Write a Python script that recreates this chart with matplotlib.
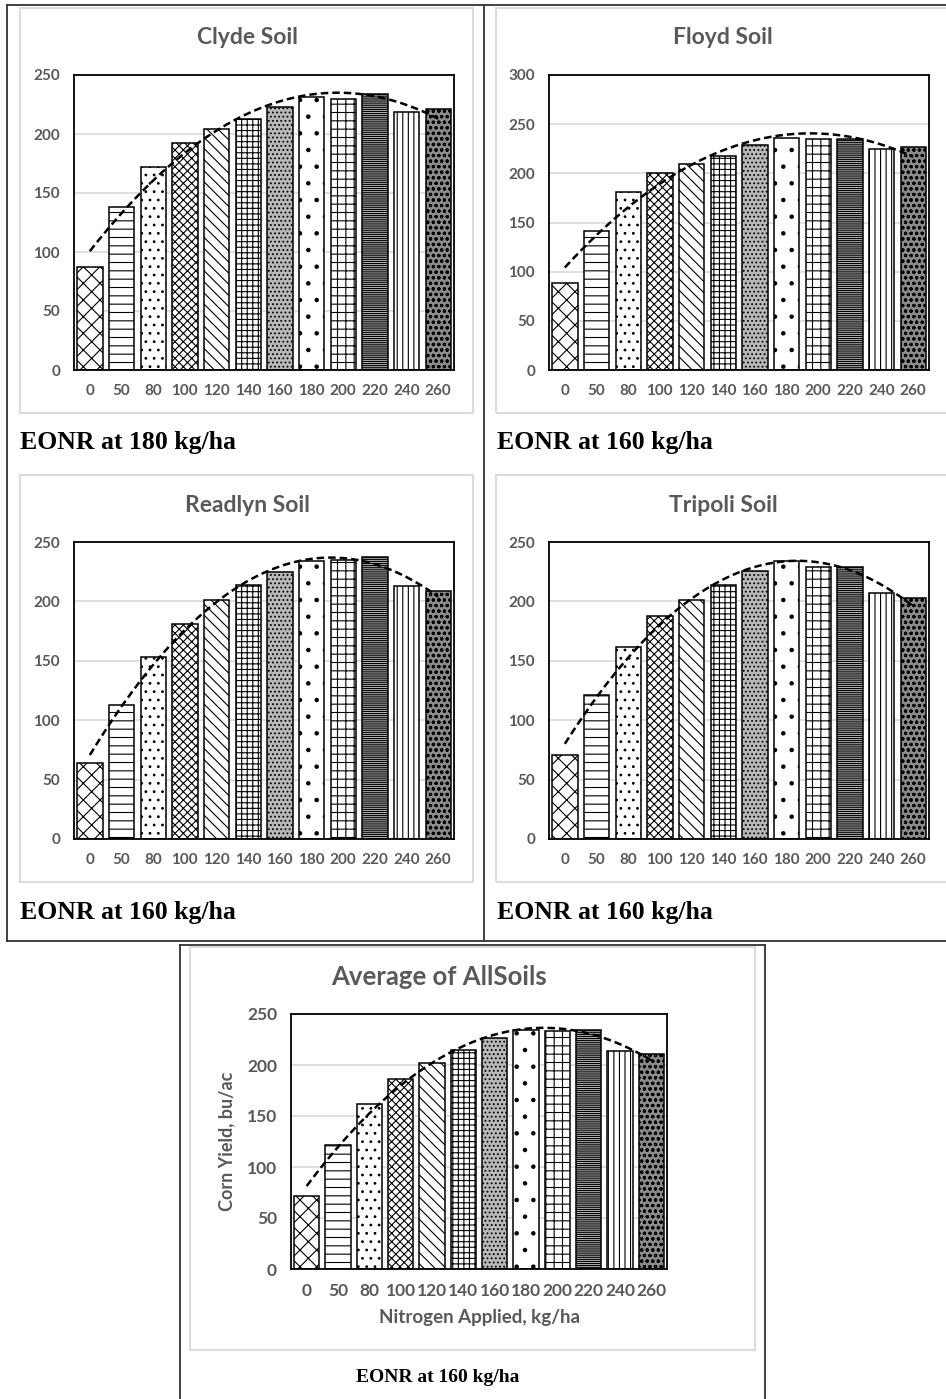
import numpy as np
import matplotlib
matplotlib.use("Agg")
import matplotlib.pyplot as plt
from matplotlib.patches import Rectangle
from matplotlib.lines import Line2D

# Nitrogen rates (kg/ha)
n_rates = ["0", "50", "80", "100", "120", "140", "160", "180", "200", "220", "240", "260"]

# Corn yields (bu/ac)
clyde = [87, 138, 172, 192, 204, 213, 223, 231, 230, 234, 219, 221]
floyd = [88, 141, 181, 200, 210, 218, 229, 236, 235, 235, 225, 227]
readlyn = [64, 113, 153, 181, 201, 214, 225, 234, 235, 237, 213, 209]
tripoli = [71, 121, 162, 188, 201, 214, 226, 234, 229, 229, 207, 203]
average = [72, 122, 162, 186, 202, 215, 226, 234, 233, 234, 214, 211]

titles = ["Clyde Soil", "Floyd Soil", "Readlyn Soil", "Tripoli Soil", "Average of AllSoils"]
eonr = ["EONR at 180 kg/ha", "EONR at 160 kg/ha", "EONR at 160 kg/ha",
        "EONR at 160 kg/ha", "EONR at 160 kg/ha"]
ymax = [250, 300, 250, 250, 250]

# one fill pattern per nitrogen rate
hatches = ["xx", "--", "..", "xxxx", "\\\\\\", "+++", "....", ".", "++", "--------", "|||", "ooo"]
faces = ["white", "white", "white", "white", "white", "white", "#b8b8b8",
         "white", "white", "#b4b4b4", "white", "#8a8a8a"]

plt.rcParams["hatch.linewidth"] = 0.8
tick_grey = "#595959"

W, H = 946, 1399
fig = plt.figure(figsize=(W / 100, H / 100), dpi=100)


def fx(x):
    return x / W


def fy(y):
    return 1 - y / H


def rect_px(x0, y0, x1, y1):
    return [fx(x0), fy(y1), (x1 - x0) / W, (y1 - y0) / H]


def hline(x0, x1, y, color="#333333", lw=1.3):
    fig.add_artist(Line2D([fx(x0), fx(x1)], [fy(y), fy(y)], color=color, lw=lw,
                          transform=fig.transFigure))


def vline(x, y0, y1, color="#333333", lw=1.3):
    fig.add_artist(Line2D([fx(x), fx(x)], [fy(y0), fy(y1)], color=color, lw=lw,
                          transform=fig.transFigure))


def frame(x0, y0, x1, y1):
    fig.add_artist(Rectangle((fx(x0), fy(y1)), (x1 - x0) / W, (y1 - y0) / H,
                             transform=fig.transFigure, fill=False,
                             edgecolor="#dcdcdc", lw=1.5))


def panel(pos, data, top, big=False):
    ax = fig.add_axes(rect_px(*pos))
    x = np.arange(len(data))
    bars = ax.bar(x, data, width=0.8, color="white", edgecolor="black", lw=1.1, zorder=2)
    for b, h, fc in zip(bars, hatches, faces):
        b.set_hatch(h)
        b.set_facecolor(fc)
    # second-order trend line, as in the spreadsheet chart
    coef = np.polyfit(x, data, 2)
    xs = np.linspace(0, len(data) - 1, 200)
    ax.plot(xs, np.polyval(coef, xs), ls=(0, (3, 1.6)), color="black", lw=1.8, zorder=3)
    ax.set_xlim(-0.5, len(data) - 0.5)
    ax.set_ylim(0, top)
    ax.set_yticks(np.arange(0, top + 1, 50))
    ax.set_xticks(x)
    ax.set_xticklabels(n_rates)
    ax.grid(axis="y", color="#d9d9d9", lw=1.2, zorder=0)
    ax.set_axisbelow(True)
    fs = 12.5 if big else 11
    ax.tick_params(length=0, labelsize=fs, labelcolor=tick_grey, pad=10)
    for lab in ax.get_xticklabels() + ax.get_yticklabels():
        lab.set_family("Lato")
        lab.set_weight("bold")
    for s in ax.spines.values():
        s.set_linewidth(1.3)
        s.set_color("black")
    return ax


# outer table lines
hline(7, 946, 5)
hline(7, 946, 941)
vline(7, 5, 941)
vline(484, 5, 941)
# box around bottom panel
hline(180, 765, 945)
vline(180, 945, 1399)
vline(765, 945, 1399)

# light chart-area frames
frame(20, 8, 473, 413)
frame(496, 8, 950, 413)
frame(20, 475, 473, 882)
frame(496, 475, 950, 882)
frame(190, 947, 755, 1350)

datasets = [clyde, floyd, readlyn, tripoli, average]
ax_pos = [(74, 75, 454, 370), (549, 75, 929, 370),
          (74, 542, 454, 839), (549, 542, 929, 839),
          (291, 1014, 667, 1269)]
title_xy = [(247, 38), (723, 38), (247, 506), (723, 506), (439, 977)]
eonr_xy = [(20, 443), (497, 443), (20, 913), (497, 913)]

for i in range(5):
    big = i == 4
    ax = panel(ax_pos[i], datasets[i], ymax[i], big)
    tx, ty = title_xy[i]
    fig.text(fx(tx), fy(ty), titles[i], ha="center", va="center",
             fontsize=18.5 if big else 16.5, color=tick_grey, family="Lato", weight="bold")
    if big:
        ax.set_ylabel("Corn Yield, bu/ac", fontsize=13, color=tick_grey,
                      family="Lato", weight="bold", labelpad=8)
        ax.set_xlabel("Nitrogen Applied, kg/ha", fontsize=13.5, color=tick_grey,
                      family="Lato", weight="bold", labelpad=7)
        fig.text(fx(438), fy(1378), eonr[i], ha="center", va="center",
                 fontsize=14, family="Liberation Serif", weight="bold")
    else:
        ex, ey = eonr_xy[i]
        fig.text(fx(ex), fy(ey), eonr[i], ha="left", va="center",
                 fontsize=18.5, family="Liberation Serif", weight="bold")

fig.savefig("out.png", dpi=100)
